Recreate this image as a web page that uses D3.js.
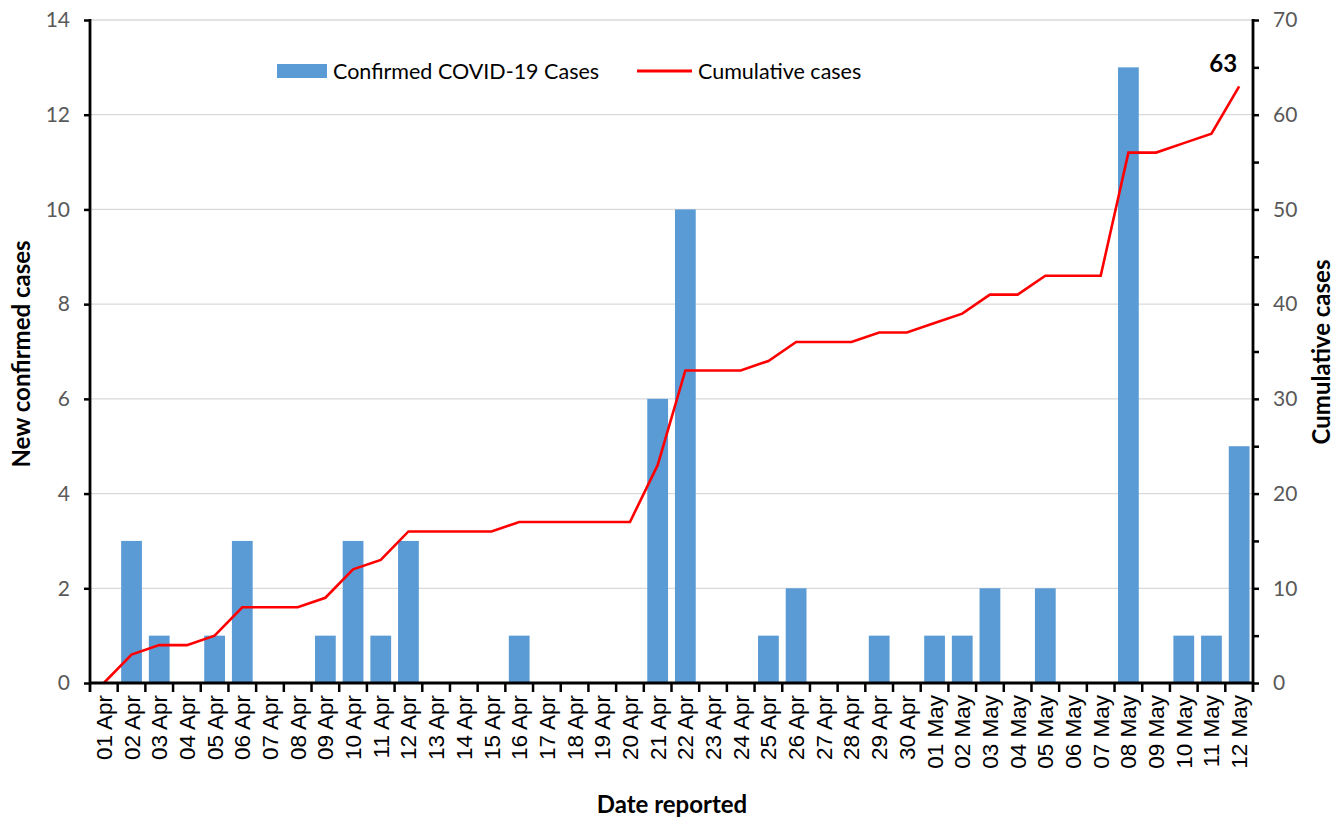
<!DOCTYPE html>
<html><head><meta charset="utf-8">
<script src="https://cdn.jsdelivr.net/npm/d3@7"></script>
<style>body{margin:0;background:#fff}svg{display:block}</style>
</head><body>
<svg id="chart" width="1341" height="819"></svg>
<script>
const dates = ["01 Apr","02 Apr","03 Apr","04 Apr","05 Apr","06 Apr","07 Apr","08 Apr","09 Apr","10 Apr","11 Apr","12 Apr","13 Apr","14 Apr","15 Apr","16 Apr","17 Apr","18 Apr","19 Apr","20 Apr","21 Apr","22 Apr","23 Apr","24 Apr","25 Apr","26 Apr","27 Apr","28 Apr","29 Apr","30 Apr","01 May","02 May","03 May","04 May","05 May","06 May","07 May","08 May","09 May","10 May","11 May","12 May"];
const newCases = [0,3,1,0,1,3,0,0,1,3,1,3,0,0,0,1,0,0,0,0,6,10,0,0,1,2,0,0,1,0,1,1,2,0,2,0,0,13,0,1,1,5];
const cumulative = [0,3,4,4,5,8,8,8,9,12,13,16,16,16,16,17,17,17,17,17,23,33,33,33,34,36,36,36,37,37,38,39,41,41,43,43,43,56,56,57,58,63];
const leftTicks = [0,2,4,6,8,10,12,14];
const rightTicks = [0,10,20,30,40,50,60,70];
const rightMinor = [0,5,10,15,20,25,30,35,40,45,50,55,60,65,70];

const svg = d3.select("#chart");
const L = 90, R = 1253, T = 20, B = 683;
const font = "Lato, 'Open Sans', sans-serif";

const x = d3.scaleBand().domain(dates).range([L, R]).paddingInner(0.25).paddingOuter(0.125);
const yL = d3.scaleLinear().domain([0, 14]).range([B, T]);
const yR = d3.scaleLinear().domain([0, 70]).range([B, T]);

// gridlines
svg.append("g").selectAll("line").data(leftTicks.filter(d => d > 0)).join("line")
  .attr("x1", L).attr("x2", R).attr("y1", d => yL(d)).attr("y2", d => yL(d))
  .attr("stroke", "#d9d9d9").attr("stroke-width", 1.3);

// bars
svg.append("g").selectAll("rect").data(dates).join("rect")
  .attr("x", d => x(d)).attr("width", x.bandwidth())
  .attr("y", (d, i) => yL(newCases[i])).attr("height", (d, i) => B - yL(newCases[i]))
  .attr("fill", "#5b9bd5");

// line
const line = d3.line().x((d, i) => x(dates[i]) + x.bandwidth() / 2).y(d => yR(d));
svg.append("path").datum(cumulative).attr("d", line)
  .attr("fill", "none").attr("stroke", "#ff0000").attr("stroke-width", 2.6).attr("stroke-linejoin", "miter");

// label 63
svg.append("text").attr("x", x(dates[41]) + x.bandwidth() / 2 - 16).attr("y", yR(63) - 14)
  .attr("text-anchor", "middle").attr("font-family", font).attr("font-weight", "bold")
  .attr("font-size", 24).attr("fill", "#000").text(cumulative[41]);

// left axis
const axL = svg.append("g").attr("transform", `translate(${L},0)`)
  .call(d3.axisLeft(yL).tickValues(leftTicks).tickSize(6).tickPadding(14).tickFormat(d3.format("d")));
axL.select(".domain").remove();
axL.selectAll(".tick line").attr("stroke", "#000").attr("stroke-width", 2.5);
axL.selectAll(".tick text").attr("font-family", font).attr("font-size", 21).attr("fill", "#595959");
svg.append("line").attr("x1", L).attr("x2", L).attr("y1", T - 1).attr("y2", B + 9)
  .attr("stroke", "#000").attr("stroke-width", 2.8);

// right axis
const axR = svg.append("g").attr("transform", `translate(${R},0)`)
  .call(d3.axisRight(yR).tickValues(rightMinor).tickSize(6).tickPadding(14)
    .tickFormat(d => rightTicks.includes(d) ? d : ""));
axR.select(".domain").remove();
axR.selectAll(".tick line").attr("stroke", "#000").attr("stroke-width", 2.5);
axR.selectAll(".tick text").attr("font-family", font).attr("font-size", 21).attr("fill", "#595959");
svg.append("line").attr("x1", R).attr("x2", R).attr("y1", T - 1).attr("y2", B + 9)
  .attr("stroke", "#000").attr("stroke-width", 2.8);

// bottom axis
svg.append("line").attr("x1", L).attr("x2", R).attr("y1", B).attr("y2", B)
  .attr("stroke", "#000").attr("stroke-width", 2.8);
const bounds = dates.map(d => x(d) - x.step() * x.paddingInner() / 2).slice(1);
svg.append("g").selectAll("line").data(bounds).join("line")
  .attr("x1", d => d).attr("x2", d => d).attr("y1", B).attr("y2", B + 9)
  .attr("stroke", "#000").attr("stroke-width", 2.5);
svg.append("g").selectAll("text").data(dates).join("text")
  .attr("transform", d => `translate(${x(d) + x.bandwidth() / 2 + 8},${B + 12}) rotate(-90)`)
  .attr("text-anchor", "end").attr("font-family", "'Liberation Sans', Arial, sans-serif")
  .attr("font-size", 22.5).attr("fill", "#000").text(d => d);

// axis titles
svg.append("text").attr("x", 672).attr("y", 813).attr("text-anchor", "middle")
  .attr("font-family", font).attr("font-weight", "bold").attr("font-size", 24).text("Date reported");
svg.append("text").attr("transform", `translate(30,${354}) rotate(-90)`).attr("text-anchor", "middle")
  .attr("font-family", font).attr("font-weight", "bold").attr("font-size", 24).text("New confirmed cases");
svg.append("text").attr("transform", `translate(1330,${352}) rotate(-90)`).attr("text-anchor", "middle")
  .attr("font-family", font).attr("font-weight", "bold").attr("font-size", 24).text("Cumulative cases");

// legend
const lg = svg.append("g");
lg.append("rect").attr("x", 277).attr("y", 64).attr("width", 50).attr("height", 14).attr("fill", "#5b9bd5");
lg.append("text").attr("x", 333).attr("y", 78.5).attr("font-family", font).attr("font-size", 21.5).text("Confirmed COVID-19 Cases");
lg.append("line").attr("x1", 637).attr("x2", 692).attr("y1", 71).attr("y2", 71).attr("stroke", "#ff0000").attr("stroke-width", 2.8);
lg.append("text").attr("x", 698).attr("y", 78.5).attr("font-family", font).attr("font-size", 21.5).text("Cumulative cases");
</script>
</body></html>
